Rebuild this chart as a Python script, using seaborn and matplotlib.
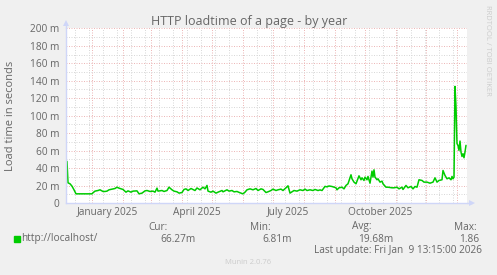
import numpy as np
import pandas as pd
import matplotlib
matplotlib.use("Agg")
import matplotlib.pyplot as plt
import matplotlib.dates as mdates
import seaborn as sns
from matplotlib.transforms import blended_transform_factory

# ---------------- data ----------------
# day offsets relative to 2025-01-01 and daily load time in milliseconds
day_offsets = [
    -25, -24, -22, -20, -18, -16, -8, 0, 1, 3, 6, 8, 11, 13, 15, 17, 20, 23, 25, 27,
    30, 31, 34, 36, 39, 41, 45, 47, 50, 53, 55, 58, 61, 63, 65, 66, 70, 72, 75, 77,
    80, 82, 85, 87, 90, 92, 94, 96, 99, 101, 103, 105, 108, 111, 113, 115, 116, 119,
    121, 124, 126, 130, 131, 135, 137, 140, 142, 145, 148, 151, 153, 155, 158, 161,
    164, 166, 169, 171, 174, 176, 179, 181, 184, 186, 189, 191, 194, 196, 198, 200,
    202, 205, 208, 211, 213, 215, 218, 221, 223, 226, 228, 230, 233, 235, 237, 240,
    242, 244, 245, 247, 250, 252, 254, 256, 259, 260, 262, 264, 265, 267, 269, 270,
    272, 273, 275, 276, 278, 280, 281, 282, 283, 285, 286, 288, 290, 291, 294, 296,
    300, 302, 305, 307, 310, 311, 314, 316, 319, 321, 323, 325, 327, 330, 332, 335,
    338, 341, 343, 345, 347, 350, 351, 353, 355, 357, 359, 360, 361, 362, 363, 364,
    365, 366, 367, 368, 369, 370, 371, 372, 373, 374,
]
load_ms = [
    47.6, 23.1, 22.0, 19.3, 15.1, 10.5, 10.5, 10.5, 11.7, 13.6, 14.3, 15.1, 13.2, 13.2,
    13.6, 15.1, 15.9, 16.6, 18.1, 17.0, 15.9, 15.5, 12.4, 13.9, 12.4, 13.6, 13.9, 10.5,
    11.3, 13.9, 14.3, 13.2, 13.6, 12.4, 17.0, 13.6, 14.3, 13.2, 14.3, 18.1, 15.1, 13.6,
    12.8, 11.3, 12.0, 15.5, 16.2, 14.3, 16.6, 15.5, 14.3, 17.2, 15.1, 18.1, 16.2, 20.1,
    13.6, 12.4, 13.6, 11.3, 12.4, 14.3, 12.8, 15.1, 13.6, 14.3, 12.8, 13.2, 11.7, 10.5,
    12.4, 15.1, 16.2, 15.1, 16.6, 14.3, 16.2, 15.5, 12.0, 12.8, 14.3, 15.9, 14.3, 15.1,
    15.9, 14.3, 17.4, 19.7, 11.3, 12.8, 14.3, 13.6, 15.1, 14.3, 15.9, 14.3, 15.1, 14.3,
    15.5, 14.3, 15.0, 14.3, 19.0, 18.5, 19.5, 18.9, 18.1, 17.4, 15.1, 17.4, 18.1, 16.2,
    20.1, 22.0, 32.3, 27.7, 23.9, 22.0, 25.0, 31.1, 26.6, 28.8, 25.8, 29.6, 26.6, 30.4,
    22.7, 36.5, 29.6, 38.0, 29.6, 26.6, 27.7, 23.9, 25.0, 22.0, 18.1, 18.1, 17.4, 17.4,
    18.1, 16.2, 18.1, 15.5, 20.1, 17.4, 18.9, 16.2, 18.9, 18.1, 26.6, 25.8, 23.9, 23.9,
    22.7, 23.9, 28.8, 23.9, 25.8, 26.6, 37.2, 31.5, 27.7, 28.8, 26.6, 30.4, 27.7, 29.6,
    133.5, 110.0, 68.0, 65.9, 60.2, 70.9, 58.3, 53.3, 56.4, 51.8, 58.3, 66.0,
]

y_ticks = [0, 20, 40, 60, 80, 100, 120, 140, 160, 180, 200]
y_tick_labels = ["0", "20 m", "40 m", "60 m", "80 m", "100 m", "120 m",
                 "140 m", "160 m", "180 m", "200 m"]
month_labels = ["January 2025", "April 2025", "July 2025", "October 2025"]
month_label_dates = ["2025-01-16", "2025-04-16", "2025-07-16", "2025-10-16"]

title = "HTTP loadtime of a page - by year"
y_label = "Load time in seconds"
series_name = "http://localhost/"
legend_heads = ["Cur:", "Min:", "Avg:", "Max:"]
legend_values = ["66.27m", "6.81m", "19.68m", "1.86"]
last_update = "Last update: Fri Jan  9 13:15:00 2026"
watermark = "Munin 2.0.76"
side_text = "RRDTOOL / TOBI OETIKER"

# ---------------- style ----------------
sns.set_theme(style="white")
plt.rcParams["font.family"] = ["Open Sans", "DejaVu Sans"]

BG = "#F0F0F0"
FONT = "#666666"
AXIS = "#CFD6F8"
MGRID = "#EDB8B8"
GRID = "#D9D9D9"
LINE = "#00CC00"

W, H = 497, 275
fig = plt.figure(figsize=(W / 100, H / 100), dpi=100, facecolor=BG)
L, R, T, B = 66, 467, 28.3, 203
ax = fig.add_axes([L / W, 1 - B / H, (R - L) / W, (B - T) / H])
ax.set_facecolor("white")

origin = pd.Timestamp("2025-01-01")
df = pd.DataFrame({
    "date": origin + pd.to_timedelta(day_offsets, unit="D"),
    "load": load_ms,
})

sns.lineplot(data=df, x="date", y="load", ax=ax, color=LINE, linewidth=1.1,
             zorder=5, sort=False)

x0 = origin + pd.Timedelta(days=-26)
x1 = origin + pd.Timedelta(days=375)
ax.set_xlim(x0, x1)
ax.set_ylim(0, 200)

# y ticks / grid
ax.set_yticks(y_ticks, y_tick_labels)
ax.set_yticks([v + 10 for v in y_ticks[:-1]], minor=True)
# x ticks / grid
month_starts = pd.date_range("2025-01-01", "2026-01-01", freq="MS")
ax.set_xticks(month_starts, [""] * len(month_starts))
ax.set_xticks(pd.date_range("2024-12-15", x1, freq="14D"), minor=True)

dot = (0, (1, 1.5))
ax.grid(True, which="minor", axis="both", color=GRID, linestyle=dot, linewidth=0.72, zorder=1)
ax.grid(True, which="major", axis="both", color=MGRID, linestyle=dot, linewidth=0.72, zorder=2)
ax.set_axisbelow(True)

ax.tick_params(axis="both", which="major", length=2, width=0.7, color=MGRID,
               labelsize=7.3, labelcolor=FONT, pad=2.5)
ax.tick_params(axis="both", which="minor", length=2, width=0.7, color=GRID)
ax.tick_params(axis="x", which="major", pad=0)

for s in ["top", "right"]:
    ax.spines[s].set_visible(False)
for s in ["left", "bottom"]:
    ax.spines[s].set_color(AXIS)
    ax.spines[s].set_linewidth(1.0)
    ax.spines[s].set_zorder(6)

# axis arrows
ax.plot([0, 0], [1, 1 + 5 / 175], transform=ax.transAxes, color=AXIS, lw=1.0, clip_on=False)
ax.plot([0], [1 + 5 / 175], transform=ax.transAxes, marker="^", ms=4, color=AXIS,
        clip_on=False, mew=0)
ax.plot([1, 1 + 5 / 401], [0, 0], transform=ax.transAxes, color=AXIS, lw=1.0, clip_on=False)
ax.plot([1 + 5 / 401], [0], transform=ax.transAxes, marker=">", ms=4, color=AXIS,
        clip_on=False, mew=0)

ax.set_xlabel("")
ax.set_ylabel("")

# month labels (centered mid-month, like rrdtool)
trans = blended_transform_factory(ax.transData, ax.transAxes)
for lab, d in zip(month_labels, month_label_dates):
    ax.text(pd.Timestamp(d), -(212.5 - B) / (B - T), lab, transform=trans,
            ha="center", va="center", fontsize=7.3, color=FONT)

# texts in figure pixel coordinates
def ftext(x, y, s, **kw):
    fig.text(x / W, 1 - y / H, s, **kw)

ftext(249, 21.5, title, ha="center", va="center", fontsize=9, color=FONT)
ftext(11, 115.5, y_label, ha="center", va="center", rotation=90, fontsize=8, color=FONT)
ftext(487, 5, side_text, ha="center", va="top", rotation=270, fontsize=5.5, color="#CCCCCC")

heads_right = [168, 271, 372, 477]
vals_right = [196, 292, 393, 479]
for hx, h in zip(heads_right, legend_heads):
    ftext(hx, 227, h, ha="right", va="center", fontsize=7.3, color=FONT)
for vx, v in zip(vals_right, legend_values):
    ftext(vx, 239, v, ha="right", va="center", fontsize=7.3, color=FONT)
fig.patches.append(plt.Rectangle((14 / W, 1 - 242 / H), 6 / W, 6 / H,
                                 transform=fig.transFigure, color=LINE))
ftext(21, 239, series_name, ha="left", va="center", fontsize=7.3, color=FONT)
ftext(482, 251, last_update, ha="right", va="center", fontsize=7.2, color=FONT)
ftext(248, 263, watermark, ha="center", va="center", fontsize=5.5, color="#CCCCCC")

fig.savefig("out.png", dpi=100, facecolor=BG)
